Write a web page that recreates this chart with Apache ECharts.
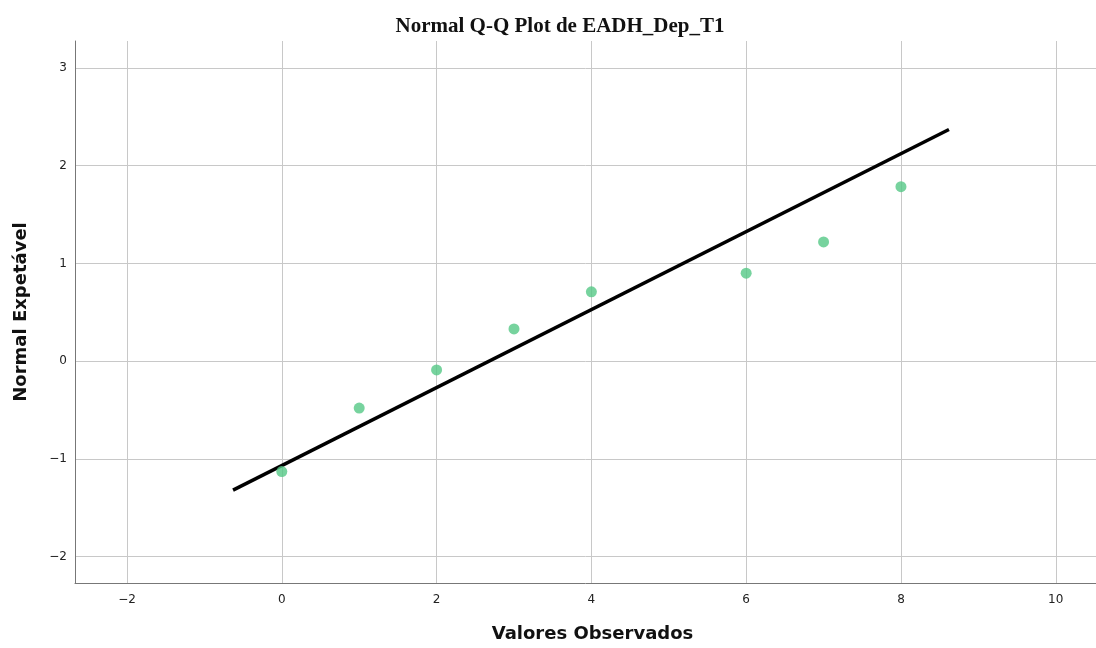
<!DOCTYPE html>
<html>
<head>
<meta charset="utf-8">
<script src="https://cdn.jsdelivr.net/npm/echarts@6/dist/echarts.min.js"></script>
<style>html,body{margin:0;padding:0;background:#fff;}#c{width:1096px;height:648px;}</style>
</head>
<body>
<div id="c"></div>
<script>
const observed = [0, 1, 2, 3, 4, 6, 7, 8];
const expectedNormal = [-1.13, -0.48, -0.09, 0.33, 0.71, 0.90, 1.22, 1.785];
const lineX = [-0.63, 8.62];
const lineY = [-1.32, 2.37];
const xTicks = [-2, 0, 2, 4, 6, 8, 10];
const yTicks = [-2, -1, 0, 1, 2, 3];

const fmt = v => String(v).replace('-', '\u2212');
const chart = echarts.init(document.getElementById('c'));
chart.setOption({
  animation: false,
  backgroundColor: '#fff',
  title: {
    text: 'Normal Q-Q Plot de EADH_Dep_T1',
    left: 555, top: 11, textAlign: 'center',
    textStyle: {fontFamily: 'Liberation Serif', fontWeight: 'bold', fontSize: 21, color: '#111'}
  },
  grid: {left: 75, right: 0, top: 41, bottom: 65, containLabel: false},
  xAxis: {
    type: 'value', min: -2.672, max: 10.52,
    name: 'Valores Observados', nameLocation: 'middle', nameGap: 42,
    nameTextStyle: {fontFamily: 'DejaVu Sans', fontWeight: 'bold', fontSize: 18, color: '#111', padding: [0, 0, 0, 14]},
    axisLine: {show: true, onZero: false, lineStyle: {color: '#777', width: 1}},
    axisTick: {show: false, customValues: xTicks},
    axisLabel: {fontFamily: 'DejaVu Sans', fontSize: 12, color: '#222', margin: 11,
      customValues: xTicks, formatter: fmt},
    splitLine: {show: true, lineStyle: {color: '#c8c8c8', width: 1}}
  },
  yAxis: {
    type: 'value', min: -2.27, max: 3.276,
    name: 'Normal Expetável', nameLocation: 'middle', nameGap: 45,
    nameTextStyle: {fontFamily: 'DejaVu Sans', fontWeight: 'bold', fontSize: 18, color: '#111'},
    axisLine: {show: true, onZero: false, lineStyle: {color: '#777', width: 1}},
    axisTick: {show: false, customValues: yTicks},
    axisLabel: {fontFamily: 'DejaVu Sans', fontSize: 12, color: '#222', margin: 8,
      customValues: yTicks, formatter: fmt},
    splitLine: {show: true, lineStyle: {color: '#c8c8c8', width: 1}}
  },
  series: [
    {
      type: 'line',
      data: lineX.map((x, i) => [x, lineY[i]]),
      symbol: 'none',
      lineStyle: {color: '#000', width: 3.5},
      z: 2
    },
    {
      type: 'scatter',
      data: observed.map((x, i) => [x, expectedNormal[i]]),
      symbol: 'circle', symbolSize: 11,
      itemStyle: {color: '#55c886'},
      z: 3
    }
  ]
});
</script>
</body>
</html>
